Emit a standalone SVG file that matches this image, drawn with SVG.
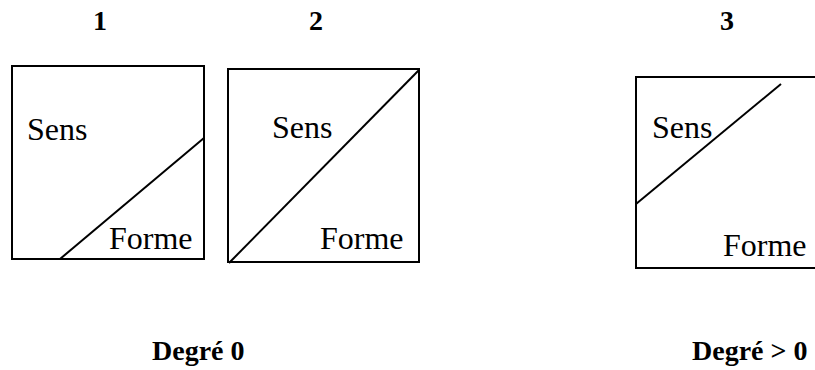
<svg xmlns="http://www.w3.org/2000/svg" width="815" height="370" viewBox="0 0 815 370">
<style>
.box{fill:none;stroke:#000;stroke-width:2}
.ln{stroke:#000;stroke-width:2;fill:none}
.t{font-family:"Liberation Serif","Times New Roman",serif;font-size:32px;fill:#000}
.b{font-family:"Liberation Serif","Times New Roman",serif;font-size:28px;font-weight:bold;fill:#000}
</style>
<rect width="815" height="370" fill="#fff"/>
<g id="labels">
<text class="b" x="100" y="30" text-anchor="middle">1</text>
<text class="b" x="316" y="30" text-anchor="middle">2</text>
<text class="b" x="727" y="30" text-anchor="middle">3</text>
<text class="b" x="152" y="360">Degré 0</text>
<text class="b" x="692" y="360">Degré &gt; 0</text>
</g>
<g id="node1">
<rect class="box" x="12" y="66" width="192" height="193"/>
<text class="t" x="27" y="140">Sens</text>
<text class="t" x="109" y="249">Forme</text>
</g>
<g id="node2">
<rect class="box" x="228" y="69" width="191" height="193"/>
<text class="t" x="272" y="138">Sens</text>
<text class="t" x="320" y="249">Forme</text>
</g>
<g id="node3">
<rect class="box" x="636" y="77" width="182" height="191"/>
<text class="t" x="652" y="138">Sens</text>
<text class="t" x="723" y="256">Forme</text>
</g>
<g id="connectors">
<line class="ln" x1="60" y1="259" x2="204" y2="138"/>
<line class="ln" x1="229" y1="263" x2="419" y2="70"/>
<line class="ln" x1="636" y1="204" x2="781" y2="84"/>
</g>
</svg>
